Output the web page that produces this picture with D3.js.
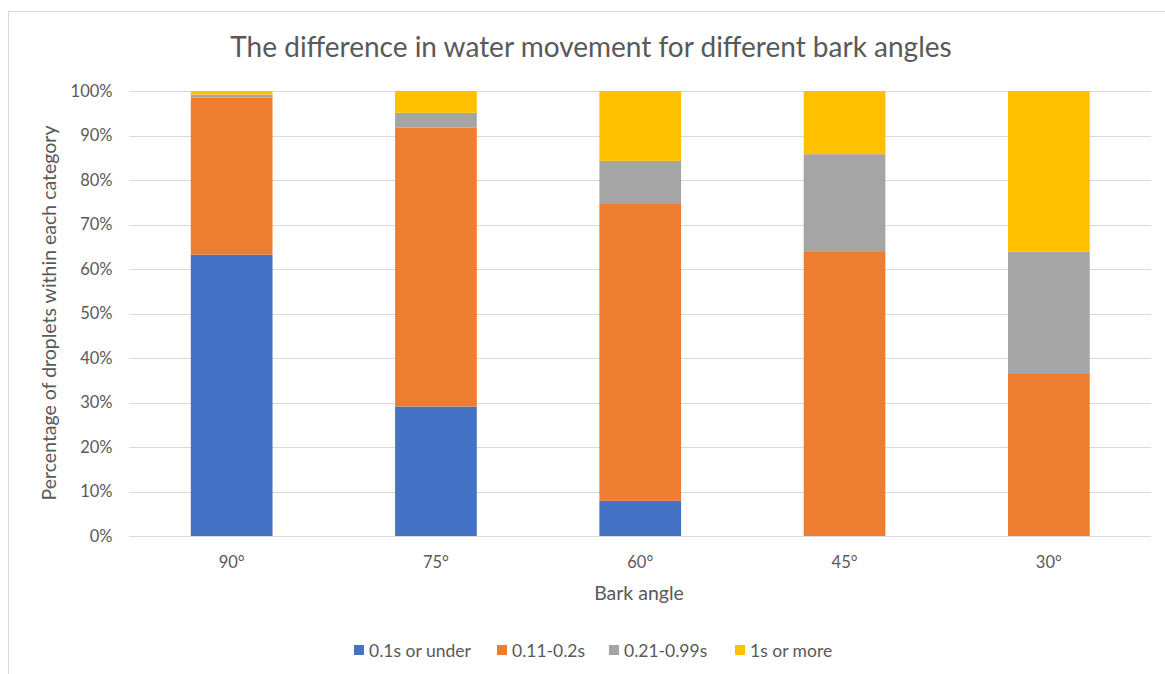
<!DOCTYPE html>
<html>
<head>
<meta charset="utf-8">
<script src="https://cdn.jsdelivr.net/npm/d3@7"></script>
<style>
  html, body { margin: 0; padding: 0; background: #fff; }
  svg { display: block; }
  text { font-family: Lato, "Open Sans", sans-serif; fill: #595959; }
</style>
</head>
<body>
<svg id="chart" width="1165" height="674"></svg>
<script>
// Bark angles along the x axis
const angles = ["90°", "75°", "60°", "45°", "30°"];
// Duration groups (stack order, bottom to top)
const groups = ["0.1s or under", "0.11-0.2s", "0.21-0.99s", "1s or more"];
const groupColors = ["#4472C4", "#ED7D31", "#A5A5A5", "#FFC000"];
// Percentage of droplets in each duration group, per angle
const under01 = [63.2, 29.1, 7.9, 0, 0];
const from011to02 = [35.3, 62.7, 66.7, 64.0, 36.6];
const from021to099 = [0.7, 3.3, 9.7, 21.8, 27.3];
const oneOrMore = [0.8, 4.9, 15.7, 14.2, 36.1];
const yTicks = [0, 10, 20, 30, 40, 50, 60, 70, 80, 90, 100];

const rows = angles.map((a, i) => ({
  angle: a,
  [groups[0]]: under01[i],
  [groups[1]]: from011to02[i],
  [groups[2]]: from021to099[i],
  [groups[3]]: oneOrMore[i]
}));

const svg = d3.select("#chart");
const plot = { left: 129.5, right: 1151, top: 91, bottom: 536 };

// Outer chart frame
svg.append("rect")
  .attr("x", 8.5).attr("y", 11.5)
  .attr("width", 1200).attr("height", 700)
  .attr("fill", "none").attr("stroke", "#d9d9d9");

const x = d3.scaleBand().domain(angles)
  .range([plot.left, plot.right]).paddingInner(0.6).paddingOuter(0.3);
const y = d3.scaleLinear().domain([0, 100]).range([plot.bottom, plot.top]);

// Gridlines
svg.append("g").selectAll("line").data(yTicks).join("line")
  .attr("x1", plot.left).attr("x2", plot.right)
  .attr("y1", d => Math.round(y(d)) + 0.5).attr("y2", d => Math.round(y(d)) + 0.5)
  .attr("stroke", "#d9d9d9").attr("stroke-width", 1);

// Stacked bars
const stack = d3.stack().keys(groups)(rows);
svg.append("g").selectAll("g").data(stack).join("g")
  .attr("fill", (d, i) => groupColors[i])
  .selectAll("rect").data(d => d).join("rect")
  .attr("x", d => x(d.data.angle))
  .attr("width", x.bandwidth())
  .attr("y", d => y(d[1]))
  .attr("height", d => Math.max(0, y(d[0]) - y(d[1])));

// Y axis labels
const yAxis = d3.axisLeft(y).tickValues(yTicks).tickFormat(d => d + "%").tickSize(0).tickPadding(17);
const gy = svg.append("g").attr("transform", `translate(${plot.left},0)`).call(yAxis);
gy.select(".domain").remove();
gy.selectAll("text").attr("font-size", 16.5).attr("fill", "#595959")
  .style("font-family", "Lato, 'Open Sans', sans-serif");

// X axis labels
const xAxis = d3.axisBottom(x).tickSize(0).tickPadding(20);
const gx = svg.append("g").attr("transform", `translate(0,${plot.bottom})`).call(xAxis);
gx.select(".domain").remove();
gx.selectAll("text").attr("font-size", 16.5).attr("fill", "#595959")
  .style("font-family", "Lato, 'Open Sans', sans-serif");

// Baseline
svg.append("line")
  .attr("x1", plot.left).attr("x2", plot.right)
  .attr("y1", plot.bottom + 0.5).attr("y2", plot.bottom + 0.5)
  .attr("stroke", "#d9d9d9");

// Title
svg.append("text")
  .attr("x", 591).attr("y", 57)
  .attr("text-anchor", "middle").attr("font-size", 28)
  .text("The difference in water movement for different bark angles");

// Axis titles
svg.append("text")
  .attr("x", 639).attr("y", 600)
  .attr("text-anchor", "middle").attr("font-size", 19.5)
  .text("Bark angle");

svg.append("text")
  .attr("transform", "translate(56,313) rotate(-90)")
  .attr("text-anchor", "middle").attr("font-size", 19.5)
  .text("Percentage of droplets within each category");

// Legend
const legendX = [354, 497, 609, 735];
const legend = svg.append("g").selectAll("g").data(groups).join("g")
  .attr("transform", (d, i) => `translate(${legendX[i]},645)`);
legend.append("rect").attr("width", 10).attr("height", 10)
  .attr("fill", (d, i) => groupColors[i]);
legend.append("text").attr("x", 15).attr("y", 11.5)
  .attr("font-size", 17.5).text(d => d);
</script>
</body>
</html>
